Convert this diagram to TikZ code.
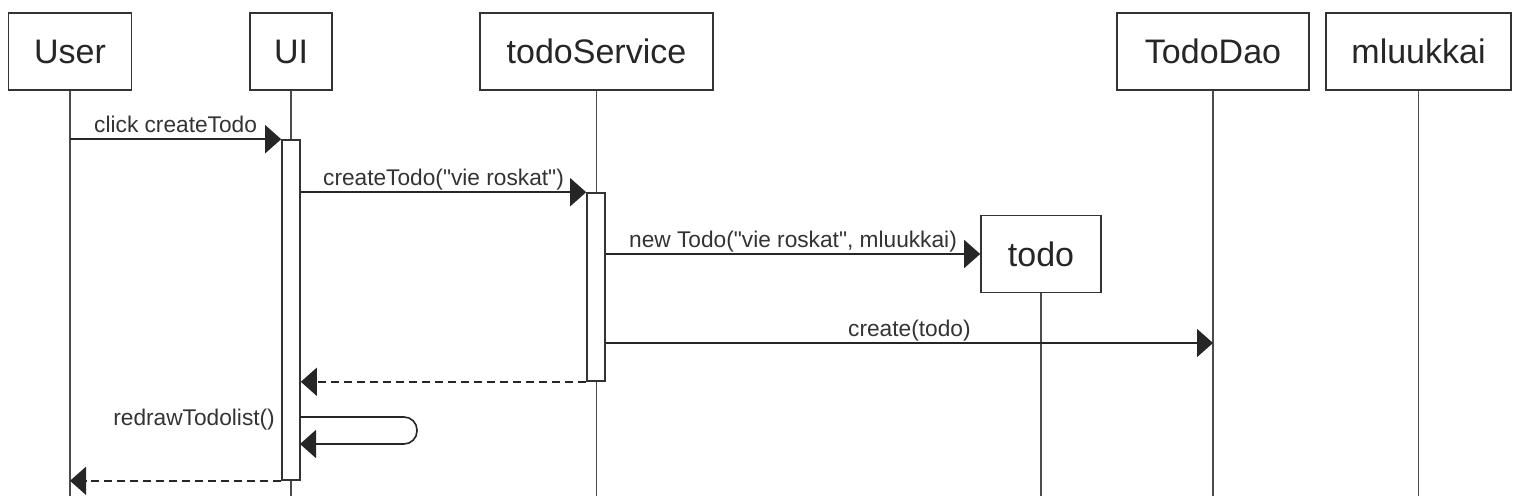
\documentclass[tikz,border=0pt]{standalone}
\usepackage{fontspec}
\setmainfont{Liberation Sans}[Ligatures=TeXOff]
\usepackage{tikz}
\usetikzlibrary{arrows.meta}
\tikzstyle{olio} = [rectangle,draw=black!80,line width=1.6pt,fill=white,minimum height=77pt,inner sep=0pt,text=black!85,font=\fontsize{34pt}{40pt}\selectfont]
\tikzstyle{aktivointi} = [rectangle,draw=black!80,line width=1.6pt,fill=white,minimum width=18pt,inner sep=0pt]
\tikzstyle{elinviiva} = [draw=black!70,line width=1.6pt]
\tikzstyle{viesti} = [draw=black!85,line width=1.6pt,-{Triangle[length=16pt,width=28pt]}]
\tikzstyle{paluu} = [viesti,dash pattern=on 8pt off 5pt]
\tikzstyle{teksti} = [inner sep=0pt,text=black!80,font=\fontsize{22.7pt}{27pt}\selectfont]
\tikzstyle{viestiteksti} = [teksti,anchor=base,yshift=7pt]

\begin{document}
\begin{tikzpicture}[x=1pt,y=-1pt]
\useasboundingbox (0,0) rectangle (1516,496);

\node (user)     [olio,minimum width=123pt] at (70,51.5) {User};
\node (ui)       [olio,minimum width=82pt]  at (291,51.5) {UI};
\node (service)  [olio,minimum width=233pt] at (596.5,51.5) {todoService};
\node (dao)      [olio,minimum width=192pt] at (1213,51.5) {TodoDao};
\node (mluukkai) [olio,minimum width=185pt] at (1418.5,51.5) {mluukkai};
\node (todo)     [olio,minimum width=120pt] at (1041,254) {todo};

% lifelines down to the bottom edge
\coordinate (userEnd)     at (70,496);
\coordinate (uiEnd)       at (291,496);
\coordinate (serviceEnd)  at (596.5,496);
\coordinate (todoEnd)     at (1041,496);
\coordinate (daoEnd)      at (1213,496);
\coordinate (mluukkaiEnd) at (1418.5,496);

\draw[elinviiva] (user) -- (userEnd);
\draw[elinviiva] (ui) -- (uiEnd);
\draw[elinviiva] (service) -- (serviceEnd);
\draw[elinviiva] (todo) -- (todoEnd);
\draw[elinviiva] (dao) -- (daoEnd);
\draw[elinviiva] (mluukkai) -- (mluukkaiEnd);

\node (uiakt)      [aktivointi,minimum height=340pt] at (291,310) {};
\node (serviceakt) [aktivointi,minimum height=188pt] at (596,287) {};

\coordinate (daoCreate) at (1213,343);
\coordinate (redrawOut) at (300,417);
\coordinate (redrawIn)  at (300,444);

\draw[viesti] (user.south |- uiakt.north) -- node[viestiteksti] {click createTodo} (uiakt.north west);
\draw[viesti] (uiakt.east |- serviceakt.north) -- node[viestiteksti] {createTodo("vie roskat")} (serviceakt.north west);
\draw[viesti] (serviceakt.east |- todo.west) -- node[viestiteksti] {new Todo("vie roskat", mluukkai)} (todo.west);
\draw[viesti] (serviceakt.east |- daoCreate) -- node[viestiteksti] {create(todo)} (daoCreate);
\draw[paluu] (serviceakt.south west) -- (uiakt.east |- serviceakt.south);

\draw[viesti,rounded corners=13pt] (redrawOut) -- ++(117,0) |- (redrawIn);
\node (redrawteksti) [teksti,anchor=base east] at (275,425) {redrawTodolist()};

\draw[paluu] (uiakt.south west) -- (user.south |- uiakt.south);

\end{tikzpicture}
\end{document}
